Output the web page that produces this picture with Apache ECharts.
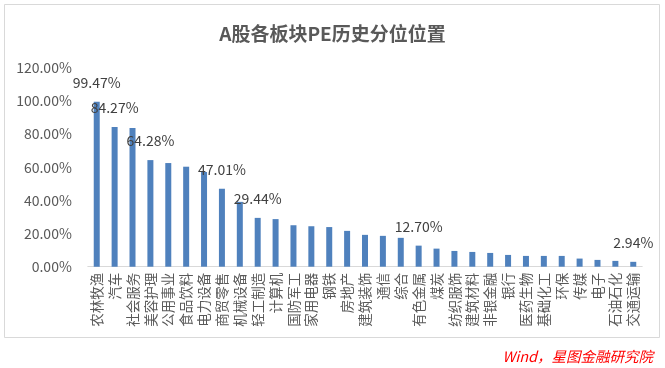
<!DOCTYPE html>
<html><head><meta charset="utf-8">
<script src="https://cdn.jsdelivr.net/npm/echarts@6/dist/echarts.min.js"></script>
<style>html,body{margin:0;padding:0;background:#fff}#c{width:665px;height:368px}</style>
</head><body><div id="c"></div>
<script>
var categories = ['农林牧渔','汽车','社会服务','美容护理','公用事业','食品饮料','电力设备','商贸零售','机械设备','轻工制造','计算机','国防军工','家用电器','钢铁','房地产','建筑装饰','通信','综合','有色金属','煤炭','纺织服饰','建筑材料','非银金融','银行','医药生物','基础化工','环保','传媒','电子','石油石化','交通运输'];
var values = [99.47,84.27,83.6,64.28,62.5,60.3,57.1,47.01,39.1,29.44,28.7,25.0,24.4,23.9,21.6,19.2,18.6,17.4,12.70,10.9,9.5,8.9,8.3,7.1,6.5,6.5,6.5,4.9,4.1,3.5,2.94];
var labeledIdx = [0,1,3,7,9,18,30];
var yTicks = {min:0, max:120, interval:20};
var titleText = 'A股各板块PE历史分位位置';
var sourceText = 'Wind，星图金融研究院';

var FONT = '"Noto Sans CJK SC","Noto Sans",sans-serif';
var data = values.map(function(v,i){
  return {value:v, label:{show: labeledIdx.indexOf(i)>=0}};
});
var chart = echarts.init(document.getElementById('c'), null, {renderer:'canvas'});
chart.setOption({
  animation:false,
  backgroundColor:'#fff',
  title:{text:titleText, left:'center', top:19,
    textStyle:{fontFamily:FONT, fontSize:19, fontWeight:'bold', color:'#595959'}},
  grid:{left:87.8, right:22.8, top:67.7, bottom:101.3, containLabel:false},
  xAxis:{type:'category', data:categories,
    axisLine:{lineStyle:{color:'#d9d9d9'}},
    axisTick:{show:false},
    axisLabel:{interval:0, rotate:90, margin:6, color:'#595959', fontFamily:FONT, fontSize:13.5}},
  yAxis:{type:'value', min:yTicks.min, max:yTicks.max, interval:yTicks.interval,
    splitLine:{show:false}, axisLine:{show:false}, axisTick:{show:false},
    axisLabel:{margin:16, color:'#595959', fontFamily:FONT, fontSize:14,
      formatter:function(v){return v.toFixed(2)+'%';}}},
  series:[{type:'bar', data:data, barWidth:6,
    itemStyle:{color:'#4f81bd'},
    label:{position:'top', distance:12, color:'#404040', fontFamily:FONT, fontSize:14,
      formatter:function(p){return p.value.toFixed(2)+'%';}}}],
  graphic:[
    {type:'rect', shape:{x:4.5,y:4.5,width:655,height:333}, style:{fill:'none', stroke:'#d9d9d9', lineWidth:1}, silent:true, z:-1},
    {type:'text', right:12, top:349, style:{text:sourceText, fill:'#ff0000', font:'italic 14.5px '+FONT}}
  ]
});
</script></body></html>
